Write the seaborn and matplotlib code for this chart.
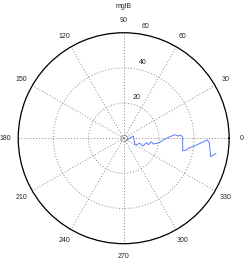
import numpy as np
import pandas as pd
import matplotlib
matplotlib.use("Agg")
import matplotlib.pyplot as plt
import seaborn as sns

# ---- data (angle in degrees, radius in plot units) ----
theta_deg = [-47, 12.9, -31, -17.4, -22.3, -11.1, -14.8, -7.1, -11.1, -7.2,
             -2.6, 1.9, 3.9, 2.3, 3.2, 0.9, -12.0, -10.6, -8.9, -5.3,
             -1.2, -3.0, -12.0, -9.3]
radius = [1.9, 5.6, 7.5, 9.7, 11.7, 13.3, 14.5, 16.0, 17.2, 20.4,
          22.5, 26.3, 29.2, 31.1, 32.5, 33.6, 34.3, 36.5, 37.2, 41.7,
          47.6, 48.8, 50.6, 53.2]

angle_ticks = [0, 30, 60, 90, 120, 150, 180, 210, 240, 270, 300, 330]
ring_ticks = [20, 40, 60]
ring_labels = ["20", "40", "60"]
ring_label_pos = [(72.4, 24.4), (76.0, 44.5), (78.8, 64.6)]  # (deg, r)
title = "mglB"

df = pd.DataFrame({"theta": np.deg2rad(theta_deg), "r": radius})

sns.set_style("white")
plt.rcParams["font.family"] = ["Liberation Sans", "DejaVu Sans"]

fig = plt.figure(figsize=(2.47, 2.61), dpi=100)
ax = fig.add_axes([0.0737, 0.0663, 0.854, 0.8084], projection="polar")

sns.lineplot(data=df, x="theta", y="r", sort=False, estimator=None,
             color="#5a7cff", linewidth=0.7, ax=ax)
ax.plot([0], [0], marker="o", markersize=4.5, markerfacecolor="none",
        markeredgecolor="#888888", markeredgewidth=0.5, linestyle="none")

ax.set_ylim(0, 60)
ax.set_yticks(ring_ticks)
ax.set_yticklabels([])
ax.set_xticks(np.deg2rad(angle_ticks))
ax.set_xticklabels([str(a) for a in angle_ticks], fontsize=5, color="#222222")
ax.tick_params(axis="x", pad=-1.5)
ax.grid(True, color="#888888", linestyle=(0, (1, 2)), linewidth=0.7)
ax.spines["polar"].set_color("black")
ax.spines["polar"].set_linewidth(0.9)
ax.set_xlabel("")
ax.set_ylabel("")

for lab, (a, r) in zip(ring_labels, ring_label_pos):
    ax.text(np.deg2rad(a), r, lab, fontsize=5, color="#222222",
            ha="center", va="center", clip_on=False)

fig.text(0.5, 1 - 7 / 261, title, fontsize=5, color="#222222",
         ha="center", va="center")

fig.savefig("out.png", dpi=100)
